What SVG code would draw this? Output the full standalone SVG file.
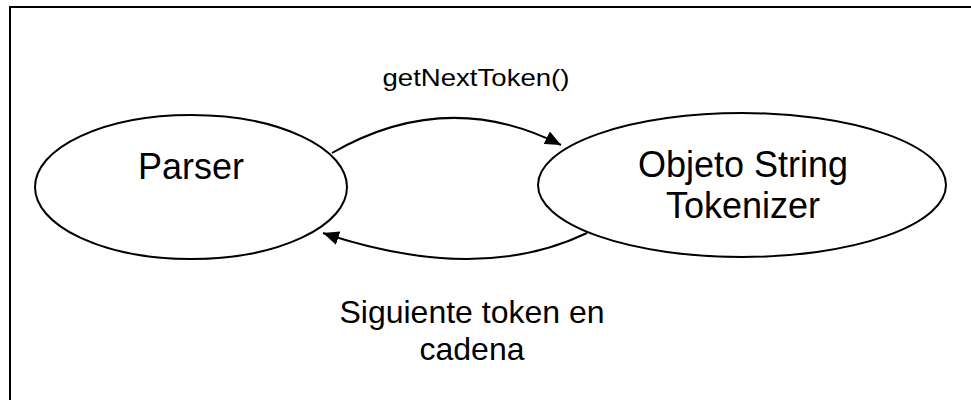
<svg xmlns="http://www.w3.org/2000/svg" width="971" height="400" viewBox="0 0 971 400">
<style>
.node{fill:#fff;stroke:#000;stroke-width:2}
.lbl{font-family:"Liberation Sans",Arial,sans-serif;fill:#000;text-anchor:middle}
.edge{fill:none;stroke:#000;stroke-width:2}
</style>
<defs>
<marker id="ah" markerUnits="userSpaceOnUse" markerWidth="18" markerHeight="14" refX="16" refY="7" orient="auto">
<path d="M0,0 L16,7 L0,14 Z" fill="#000"/>
</marker>
</defs>
<rect x="0" y="0" width="971" height="400" fill="#fff"/>
<rect x="10" y="7" width="990" height="420" fill="none" stroke="#000" stroke-width="2"/>
<g id="parser">
<ellipse class="node" cx="191" cy="187" rx="156" ry="72"/>
<text class="lbl" x="191" y="179" font-size="36">Parser</text>
</g>
<g id="tokenizer">
<ellipse class="node" cx="742" cy="185" rx="204" ry="72"/>
<text class="lbl" x="743" y="177" font-size="36">Objeto String</text>
<text class="lbl" x="743" y="218" font-size="36">Tokenizer</text>
</g>
<g id="connectors">
<path class="edge" d="M332,153 Q447,87 561,145" marker-end="url(#ah)"/>
<path class="edge" d="M587,233 Q479,285 323,233" marker-end="url(#ah)"/>
</g>
<g id="labels">
<text class="lbl" x="476" y="86" font-size="24" textLength="187" lengthAdjust="spacingAndGlyphs">getNextToken()</text>
<text class="lbl" x="472" y="323" font-size="32">Siguiente token en</text>
<text class="lbl" x="472" y="360" font-size="32">cadena</text>
</g>
</svg>
